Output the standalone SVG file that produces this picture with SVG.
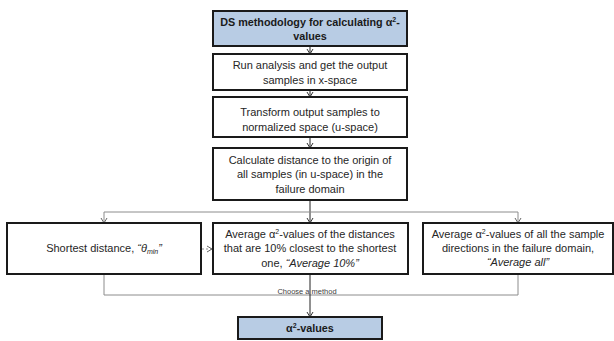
<svg xmlns="http://www.w3.org/2000/svg" width="614" height="341" viewBox="0 0 614 341">
<defs>
<style>
.box{fill:#ffffff;stroke:#1a1a1a;stroke-width:2}
.hd{fill:#b8cce4;stroke:#1a1a1a;stroke-width:2}
.t{font-family:"Liberation Sans",Arial,sans-serif;font-size:11px;fill:#262626;text-anchor:middle}
.b{font-family:"Liberation Sans",Arial,sans-serif;font-size:10.8px;font-weight:bold;fill:#1a1a1a;text-anchor:middle}
.c{fill:none;stroke:#222;stroke-width:1}
.g{fill:none;stroke:#8c8c8c;stroke-width:1}
.small{font-family:"Liberation Sans",Arial,sans-serif;font-size:7.5px;fill:#404040;text-anchor:middle}
</style>
<marker id="ah" markerWidth="8" markerHeight="8" refX="6.5" refY="4" orient="auto" markerUnits="userSpaceOnUse" viewBox="0 0 8 8">
<path d="M1.5,1 L6.5,4 L1.5,7" fill="none" stroke="#333" stroke-width="1"/>
</marker>
<marker id="ahg" markerWidth="8" markerHeight="8" refX="6.5" refY="4" orient="auto" markerUnits="userSpaceOnUse" viewBox="0 0 8 8">
<path d="M1.5,1 L6.5,4 L1.5,7" fill="none" stroke="#666" stroke-width="1"/>
</marker>
</defs>
<g id="connectors">
<line class="c" x1="310" y1="46" x2="310" y2="54" marker-end="url(#ah)"/>
<line class="c" x1="310" y1="90" x2="310" y2="97" marker-end="url(#ah)"/>
<line class="c" x1="310" y1="137" x2="310" y2="148" marker-end="url(#ah)"/>
<line class="c" x1="310" y1="200" x2="310" y2="223" marker-end="url(#ah)"/>
<path class="g" d="M104,212 L518,212"/>
<line class="g" x1="104" y1="212" x2="104" y2="223" marker-end="url(#ahg)"/>
<line class="g" x1="518" y1="212" x2="518" y2="223" marker-end="url(#ahg)"/>
<line class="g" x1="202" y1="249" x2="212" y2="249" stroke-dasharray="2,2" marker-end="url(#ahg)"/>
<path class="g" d="M104,274 L104,295 L518,295 L518,274"/>
<line class="c" x1="310" y1="274" x2="310" y2="317" marker-end="url(#ah)"/>
<text class="small" x="307" y="294">Choose a method</text>
</g>
<g id="n1">
<rect class="hd" x="213" y="11" width="194" height="35"/>
<text class="b" x="310" y="26">DS methodology for calculating α<tspan font-size="7" dy="-4">2</tspan><tspan dy="4">-</tspan></text>
<text class="b" x="310" y="40">values</text>
</g>
<g id="n2">
<rect class="box" x="213" y="54" width="194" height="36"/>
<text class="t" x="310" y="69">Run analysis and get the output</text>
<text class="t" x="310" y="84">samples in x-space</text>
</g>
<g id="n3">
<rect class="box" x="213" y="97" width="194" height="40"/>
<text class="t" x="310" y="116">Transform output samples to</text>
<text class="t" x="310" y="131">normalized space (u-space)</text>
</g>
<g id="n4">
<rect class="box" x="213" y="148" width="194" height="52"/>
<text class="t" x="310" y="164">Calculate distance to the origin of</text>
<text class="t" x="310" y="178">all samples (in u-space) in the</text>
<text class="t" x="310" y="193">failure domain</text>
</g>
<g id="n5">
<rect class="box" x="7" y="223" width="194" height="51"/>
<text class="t" x="104" y="252">Shortest distance, <tspan font-style="italic">“θ<tspan font-size="7" dy="2">min</tspan><tspan dy="-2">”</tspan></tspan></text>
</g>
<g id="n6">
<rect class="box" x="213" y="223" width="195" height="51"/>
<text class="t" x="310" y="238">Average α<tspan font-size="7" dy="-4">2</tspan><tspan dy="4">-values of the distances</tspan></text>
<text class="t" x="310" y="252">that are 10% closest to the shortest</text>
<text class="t" x="310" y="267">one, <tspan font-style="italic">“Average 10%”</tspan></text>
</g>
<g id="n7">
<rect class="box" x="423" y="223" width="190" height="51"/>
<text class="t" x="518" y="238">Average α<tspan font-size="7" dy="-4">2</tspan><tspan dy="4">-values of all the sample</tspan></text>
<text class="t" x="518" y="252">directions in the failure domain,</text>
<text class="t" x="518" y="266" font-style="italic">“Average all”</text>
</g>
<g id="n8">
<rect class="hd" x="238" y="317" width="144" height="22"/>
<text class="b" x="310" y="332">α<tspan font-size="7" dy="-4">2</tspan><tspan dy="4">-values</tspan></text>
</g>
</svg>
